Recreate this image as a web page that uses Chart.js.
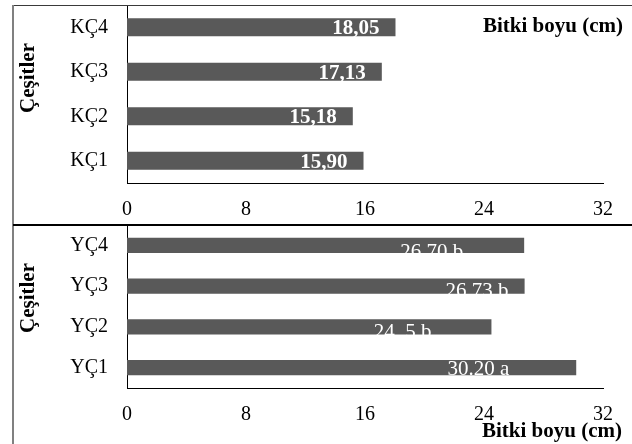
<!DOCTYPE html>
<html>
<head>
<meta charset="utf-8">
<script src="https://cdn.jsdelivr.net/npm/chart.js@4/dist/chart.umd.min.js"></script>
<style>
  html, body { margin: 0; padding: 0; background: #fff; }
  #wrap { position: relative; width: 632px; height: 444px; overflow: hidden; }
  canvas { position: absolute; left: 0; }
  #kc { top: 0; }
  #yc { top: 225px; }
  .rule { position: absolute; }
  #frameTop { left: 13px; top: 5px; width: 619px; height: 1px; background: #3a3a3a; }
  #frameLeft { left: 12px; top: 5px; width: 2px; height: 439px; background: #808080; }
  #frameMid { left: 13px; top: 224px; width: 619px; height: 2px; background: #000; }
</style>
</head>
<body>
<div id="wrap">
  <canvas id="kc" width="632" height="225"></canvas>
  <canvas id="yc" width="632" height="219"></canvas>
  <div class="rule" id="frameTop"></div>
  <div class="rule" id="frameLeft"></div>
  <div class="rule" id="frameMid"></div>
</div>
<script>
// Plant height (cm) per variety, two groups
const kcCategories = ['KÇ1', 'KÇ2', 'KÇ3', 'KÇ4'];
const kcHeights = [15.90, 15.18, 17.13, 18.05];
const kcValueLabels = ['15,90', '15,18', '17,13', '18,05'];

const ycCategories = ['YÇ1', 'YÇ2', 'YÇ3', 'YÇ4'];
const ycHeights = [30.20, 24.5, 26.73, 26.70];
const ycValueLabels = ['30.20 a', '24. 5 b', '26.73 b', '26.70 b'];

const xTickValues = [0, 8, 16, 24, 32];
const axisTitle = 'Bitki boyu (cm)';
const groupTitle = 'Çeşitler';

const SERIF = '"Liberation Serif", "Times New Roman", serif';
const BAR_COLOR = '#595959';

// Value text placement inside each bar: distance from bar end, baseline shift
const kcLabelStyle = { bold: true, inset: [16, 16, 16, 16], dy: [7, 7, 7, 7] };
const ycLabelStyle = { bold: false, inset: [67, 60, 16, 61], dy: [7, 11, 10.5, 12.5] };

function valueLabelPlugin(texts, style) {
  return {
    id: 'valueLabels',
    afterDatasetsDraw(chart) {
      const ctx = chart.ctx;
      const meta = chart.getDatasetMeta(0);
      ctx.save();
      ctx.fillStyle = '#fff';
      ctx.font = (style.bold ? 'bold ' : '') + '21px ' + SERIF;
      ctx.textAlign = 'right';
      ctx.textBaseline = 'alphabetic';
      meta.data.forEach((bar, i) => {
        ctx.fillText(texts[i], bar.x - style.inset[i], bar.y + style.dy[i]);
      });
      ctx.restore();
    }
  };
}

function titlesPlugin(titlePos, groupPos) {
  return {
    id: 'titles',
    afterDraw(chart) {
      const ctx = chart.ctx;
      ctx.save();
      ctx.fillStyle = '#000';
      ctx.font = 'bold 21px ' + SERIF;
      ctx.textAlign = 'right';
      ctx.textBaseline = 'alphabetic';
      ctx.fillText(axisTitle, titlePos.x, titlePos.y);
      ctx.translate(groupPos.x, groupPos.y);
      ctx.rotate(-Math.PI / 2);
      ctx.textAlign = 'center';
      ctx.textBaseline = 'middle';
      ctx.fillText(groupTitle, 0, 0);
      ctx.restore();
    }
  };
}

function makeChart(canvasId, categories, values, texts, labelStyle, opts) {
  return new Chart(document.getElementById(canvasId), {
    type: 'bar',
    data: {
      labels: categories,
      datasets: [{
        data: values,
        backgroundColor: BAR_COLOR,
        borderWidth: 0,
        barPercentage: opts.barPct,
        categoryPercentage: 1
      }]
    },
    options: {
      indexAxis: 'y',
      responsive: false,
      animation: false,
      devicePixelRatio: 1,
      layout: { padding: { top: opts.padTop, right: 29, left: 0, bottom: 0 } },
      plugins: { legend: { display: false }, tooltip: { enabled: false } },
      scales: {
        x: {
          min: 0,
          max: 32,
          afterBuildTicks(axis) { axis.ticks = xTickValues.map(v => ({ value: v })); },
          afterFit(axis) {
            axis.height = opts.xAxisHeight;
            axis.paddingLeft = 0;
            axis.paddingRight = 0;
          },
          grid: { display: false, drawTicks: false },
          border: { display: true, color: '#000', width: 1 },
          ticks: {
            color: '#000',
            padding: opts.xTickPad,
            maxRotation: 0,
            font: { family: SERIF, size: 20 }
          }
        },
        y: {
          reverse: true,
          afterFit(axis) {
            axis.width = 127;
            axis.paddingTop = 0;
            axis.paddingBottom = 0;
          },
          grid: { display: false, drawTicks: false },
          border: { display: true, color: '#000', width: 1 },
          ticks: {
            color: '#000',
            padding: 19,
            font: { family: SERIF, size: 20 }
          }
        }
      }
    },
    plugins: [valueLabelPlugin(texts, labelStyle), titlesPlugin(opts.titlePos, opts.groupPos)]
  });
}

makeChart('kc', kcCategories, kcHeights, kcValueLabels, kcLabelStyle, {
  barPct: 0.4, padTop: 5, xAxisHeight: 42, xTickPad: 15,
  titlePos: { x: 623, y: 32 }, groupPos: { x: 29, y: 78 }
});

makeChart('yc', ycCategories, ycHeights, ycValueLabels, ycLabelStyle, {
  barPct: 0.38, padTop: 0, xAxisHeight: 56, xTickPad: 15,
  titlePos: { x: 622, y: 212 }, groupPos: { x: 29, y: 73 }
});
</script>
</body>
</html>
